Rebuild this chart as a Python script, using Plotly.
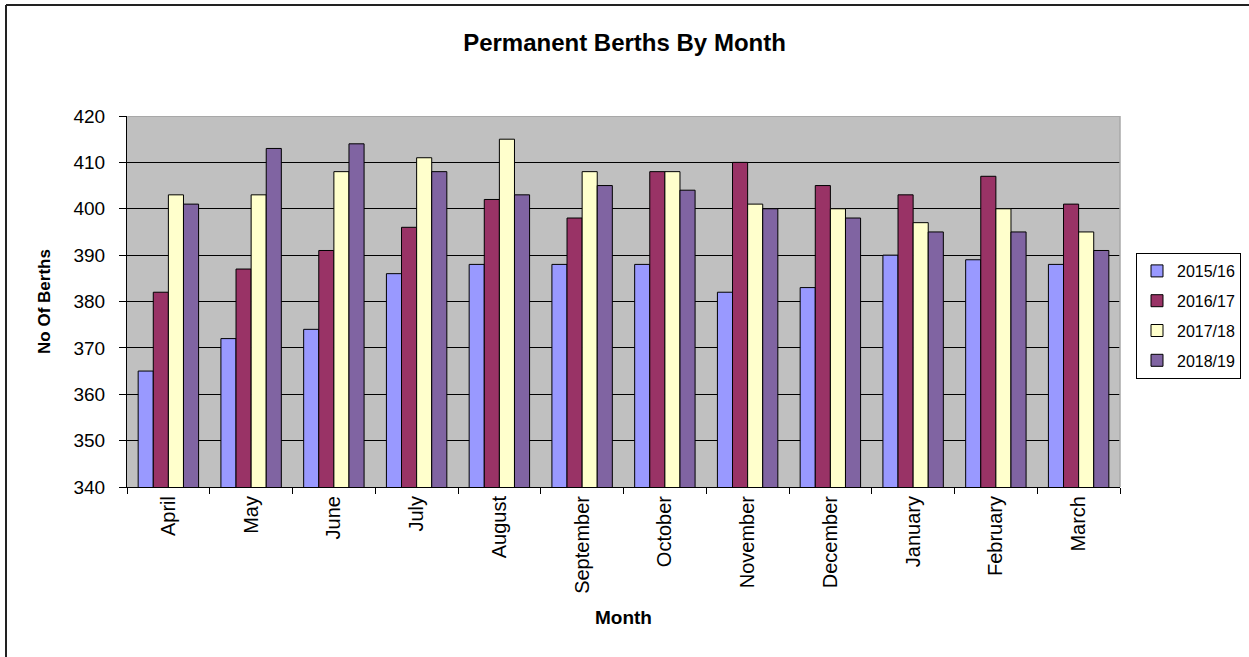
import plotly.graph_objects as go

months = ["April", "May", "June", "July", "August", "September", "October",
          "November", "December", "January", "February", "March"]
s2015_16 = [365, 372, 374, 386, 388, 388, 388, 382, 383, 390, 389, 388]
s2016_17 = [382, 387, 391, 396, 402, 398, 408, 410, 405, 403, 407, 401]
s2017_18 = [403, 403, 408, 411, 415, 408, 408, 401, 400, 397, 400, 395]
s2018_19 = [401, 413, 414, 408, 403, 405, 404, 400, 398, 395, 395, 391]
series_names = ["2015/16", "2016/17", "2017/18", "2018/19"]
colors = ["#9999FF", "#993366", "#FFFFCC", "#8064A2"]
y_ticks = [340, 350, 360, 370, 380, 390, 400, 410, 420]

FONT = "Liberation Sans, Arial, sans-serif"

fig = go.Figure()
for name, vals, col in zip(series_names, [s2015_16, s2016_17, s2017_18, s2018_19], colors):
    fig.add_trace(go.Bar(
        x=months, y=vals, name=name, legendgroup=name,
        marker=dict(color=col, line=dict(color="black", width=1)),
    ))

L, R, T, B = 127, 129, 116, 170
W, H = 1249, 657
pw, ph = W - L - R, H - T - B

def px(x):
    return (x - L) / pw

def py(y):
    return (H - B - y) / ph

fig.update_layout(
    width=W, height=H,
    margin=dict(l=L, r=R, t=T, b=B, autoexpand=False),
    paper_bgcolor="white",
    plot_bgcolor="#C0C0C0",
    barmode="group",
    bargap=0.27,
    bargroupgap=0,
    font=dict(family=FONT, color="black"),
    title=dict(text="<b>Permanent Berths By Month</b>", x=0.5, xanchor="center",
               y=1 - 43 / H, yanchor="middle", font=dict(size=24, family=FONT)),
    legend=dict(x=px(1136), y=py(253), xanchor="left", yanchor="top",
                bordercolor="black", borderwidth=1, bgcolor="white",
                font=dict(size=16, family=FONT), traceorder="grouped",
                tracegroupgap=6, itemwidth=30),
    showlegend=True,
    shapes=[
        dict(type="line", xref="paper", yref="paper", x0=px(6), x1=px(6),
             y0=py(5), y1=py(H + 5), line=dict(color="#222222", width=2)),
        dict(type="line", xref="paper", yref="paper", x0=px(6), x1=px(W + 5),
             y0=py(5), y1=py(5), line=dict(color="#222222", width=2)),
        dict(type="line", xref="paper", yref="y", x0=0.001, x1=1,
             y0=420, y1=420, line=dict(color="#A0A0A0", width=1.5)),
        dict(type="line", xref="paper", yref="paper", x0=1, x1=1,
             y0=0, y1=1, line=dict(color="#A8A8A8", width=1.5)),
    ],
)

fig.update_xaxes(
    type="category",
    tickangle=-90,
    tickfont=dict(size=20, family=FONT),
    ticks="outside", ticklen=6, tickcolor="black", tickson="boundaries",
    showline=True, linecolor="black", linewidth=1,
    showgrid=False,
    title=dict(text="<b>Month</b>", font=dict(size=19, family=FONT), standoff=17),
)
fig.update_yaxes(
    range=[340, 420],
    tickvals=y_ticks,
    tickfont=dict(size=19, family=FONT),
    ticks="outside", ticklen=7, tickcolor="black",
    ticklabelstandoff=10,
    showline=True, linecolor="black", linewidth=1,
    showgrid=True, gridcolor="black", gridwidth=1,
    zeroline=False,
    title=dict(text="<b>No Of Berths</b>", font=dict(size=17, family=FONT), standoff=18),
)

fig.write_html("out.html", config={"displayModeBar": False},
               post_script="document.body.style.margin='0';")
